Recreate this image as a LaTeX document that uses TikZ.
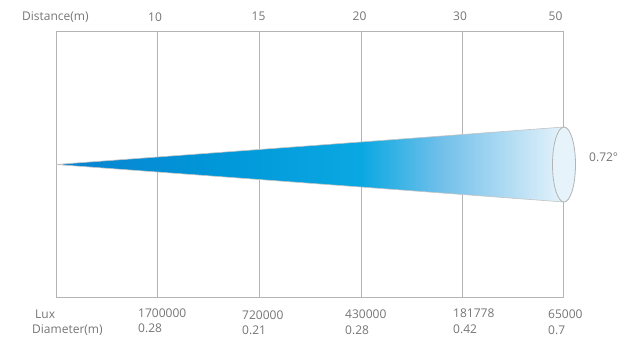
\documentclass[tikz,border=0pt]{standalone}
\usepackage{fontspec}
\setmainfont{Open Sans}
\definecolor{txtgray}{HTML}{757575}
\definecolor{gridgray}{HTML}{B4B4B4}
\definecolor{beamdark}{HTML}{0A82D0}
\definecolor{beammid}{HTML}{0096D8}
\definecolor{beamcyan}{HTML}{0AA8E2}
\definecolor{beamsoft}{HTML}{72C0EA}
\definecolor{beamlight}{HTML}{E6F3FB}
\pgfdeclarehorizontalshading{beam}{100bp}{color(0bp)=(beamdark); color(25bp)=(beamdark);
  color(40bp)=(beammid); color(55bp)=(beamcyan); color(63bp)=(beamsoft);
  color(75bp)=(beamlight); color(100bp)=(beamlight)}
\tikzset{
  lbl/.style={text=txtgray, font=\fontsize{12}{14}\selectfont, inner sep=0pt},
  grid line/.style={draw=gridgray, line width=0.9pt},
}
\begin{document}
\begin{tikzpicture}[x=1pt, y=-1pt]
    \useasboundingbox (0,0) rectangle (632,359);
    
    % frame and distance lines
    \draw[grid line] (56,31) rectangle (563,297);
    \draw[grid line] (157,31) -- (157,297);
    \draw[grid line] (259,31) -- (259,297);
    \draw[grid line] (361,31) -- (361,297);
    \draw[grid line] (462,31) -- (462,297);
    
    % beam
    \coordinate (apex) at (56,164.5);
    \coordinate (rimtop) at (564,127);
    \coordinate (rimbot) at (564,202);
    \shade[shading=beam, draw=gridgray!80, line width=0.6pt] (apex) -- (rimtop) -- (rimbot) -- cycle;
    \draw[draw=gridgray, line width=0.8pt, fill=beamlight] (564,164.5) ellipse (11.5 and 37.5);
    
    % distances
    \node[lbl, anchor=base west] (dist) at (22,20) {Distance(m)};
    \node[lbl, anchor=base] (d10) at (155,21) {10};
    \node[lbl, anchor=base] (d15) at (258.5,20) {15};
    \node[lbl, anchor=base] (d20) at (359.5,20) {20};
    \node[lbl, anchor=base] (d30) at (460,20) {30};
    \node[lbl, anchor=base] (d50) at (555.5,20) {50};
    \node[lbl, anchor=base west] (angle) at (589,161) {0.72°};
    
    % lux and diameter
    \node[lbl, anchor=base west] (lux) at (35,318) {Lux};
    \node[lbl, anchor=base west] (diam) at (32,333) {Diameter(m)};
    \node[lbl, anchor=base west] (lux10) at (138,317) {1700000};
    \node[lbl, anchor=base west] (dia10) at (138,332) {0.28};
    \node[lbl, anchor=base west] (lux15) at (242,319) {720000};
    \node[lbl, anchor=base west] (dia15) at (242,334) {0.21};
    \node[lbl, anchor=base west] (lux20) at (345,318) {430000};
    \node[lbl, anchor=base west] (dia20) at (345,334) {0.28};
    \node[lbl, anchor=base west] (lux30) at (453,317) {181778};
    \node[lbl, anchor=base west] (dia30) at (453,333) {0.42};
    \node[lbl, anchor=base west] (lux50) at (548,318) {65000};
    \node[lbl, anchor=base west] (dia50) at (548,334) {0.7};
    
\end{tikzpicture}
\end{document}
